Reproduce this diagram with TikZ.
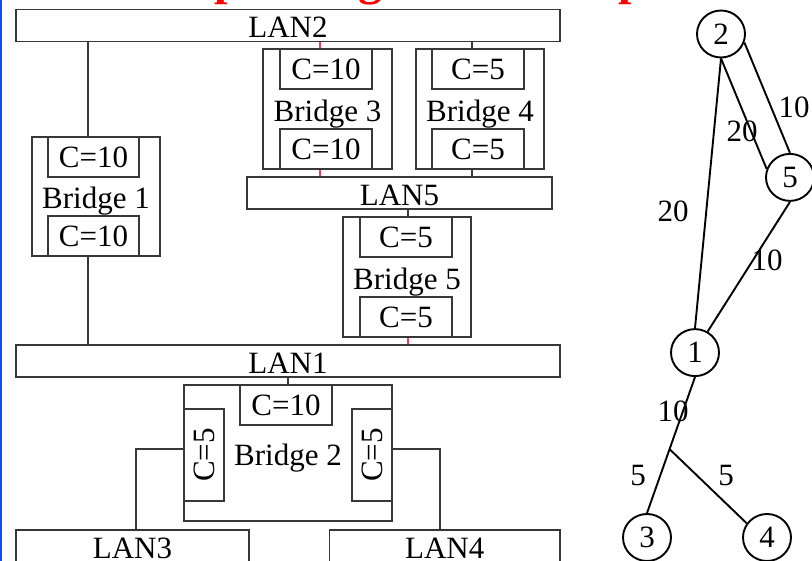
\documentclass[tikz,border=0pt]{standalone}
\usepackage{fontspec}
\setmainfont{Liberation Serif}
\usetikzlibrary{shapes.geometric,calc}
\definecolor{boxgray}{RGB}{55,55,55}
\definecolor{linkred}{RGB}{235,60,90}
\definecolor{edgeblue}{RGB}{10,80,250}
\begin{document}
\begin{tikzpicture}[x=1pt,y=-1pt,
  font=\fontsize{31}{31}\selectfont,
  box/.style={draw=boxgray, line width=1.3pt, inner sep=0pt, rectangle, text depth=0pt},
  lowtext/.style={text height=25pt, text depth=0pt},
  wire/.style={draw=boxgray, line width=1.3pt},
  redwire/.style={draw=linkred, line width=1.3pt},
  gnode/.style={draw=black, line width=1.9pt, ellipse, minimum width=48pt, minimum height=47pt, inner sep=0pt},
  gedge/.style={draw=black, line width=1.9pt},
  glabel/.style={inner sep=0pt}]
\useasboundingbox (0,0) rectangle (812,561);
\clip (0,0) rectangle (812,561);
\fill[white] (0,0) rectangle (812,561);
\fill[edgeblue] (0,0) rectangle (2.4,561);
% title (only descenders visible)
\node[anchor=base west, text=red, inner sep=0pt, font=\fontsize{48}{48}\selectfont\bfseries] (title) at (188,-5) {Spanning Tree Example};
% LANs
\node[box, lowtext, minimum width=544pt, minimum height=32pt] (lan2) at (288,25.5) {LAN2};
\node[box, lowtext, minimum width=305pt, minimum height=32pt] (lan5) at (399.5,193) {LAN5};
\node[box, lowtext, minimum width=544pt, minimum height=32pt] (lan1) at (288,361) {LAN1};
\node[box, lowtext, minimum width=233pt, minimum height=32pt] (lan3) at (132.5,546) {LAN3};
\node[box, lowtext, minimum width=230.5pt, minimum height=32pt] (lan4) at (444.75,546) {LAN4};
% Bridge 1
\node[box, lowtext, minimum width=128pt, minimum height=119pt] (b1) at (96,196.5) {Bridge 1};
\node[box, minimum width=91pt, minimum height=40pt] (b1a) at (93.5,157) {C=10};
\node[box, minimum width=91pt, minimum height=40pt] (b1b) at (93.5,236) {C=10};
% Bridge 3
\node[box, lowtext, minimum width=129pt, minimum height=120pt] (b3) at (327.5,109) {Bridge 3};
\node[box, minimum width=92pt, minimum height=40pt] (b3a) at (326,69) {C=10};
\node[box, minimum width=92pt, minimum height=40pt] (b3b) at (326,149) {C=10};
% Bridge 4
\node[box, lowtext, minimum width=128pt, minimum height=120pt] (b4) at (480,109) {Bridge 4};
\node[box, minimum width=92pt, minimum height=40pt] (b4a) at (478,69) {C=5};
\node[box, minimum width=92pt, minimum height=40pt] (b4b) at (478,149) {C=5};
% Bridge 5
\node[box, lowtext, minimum width=128pt, minimum height=120pt] (b5) at (407,277) {Bridge 5};
\node[box, minimum width=92pt, minimum height=40pt] (b5a) at (406,237) {C=5};
\node[box, minimum width=92pt, minimum height=40pt] (b5b) at (406,317) {C=5};
% Bridge 2
\node[box, lowtext, minimum width=208pt, minimum height=136pt] (b2) at (288,453) {Bridge 2};
\node[box, minimum width=92pt, minimum height=40pt] (b2t) at (286,405) {C=10};
\node[box, minimum width=40pt, minimum height=92pt] (b2l) at (204,455) {};
\node[rotate=90, inner sep=0pt, text depth=0pt] (b2lt) at (b2l.center) {C=5};
\node[box, minimum width=40pt, minimum height=92pt] (b2r) at (372,455) {};
\node[rotate=90, inner sep=0pt, text depth=0pt] (b2rt) at (b2r.center) {C=5};
% connectors
\draw[wire] ([xshift=-5.5pt]b1a.north) -- ([xshift=-5.5pt]b1a.north |- lan2.south);
\draw[wire] ([xshift=-5.5pt]b1b.south) -- ([xshift=-5.5pt]b1b.south |- lan1.north);
\draw[redwire] ([xshift=-6pt]b3a.north) -- ([xshift=-6pt]b3a.north |- lan2.south);
\draw[redwire] ([xshift=-6pt]b3b.south) -- ([xshift=-6pt]b3b.south |- lan5.north);
\draw[wire] ([xshift=-6pt]b4a.north) -- ([xshift=-6pt]b4a.north |- lan2.south);
\draw[wire] ([xshift=-6pt]b4b.south) -- ([xshift=-6pt]b4b.south |- lan5.north);
\draw[wire] ([xshift=2pt]b5a.north) -- ([xshift=2pt]b5a.north |- lan5.south);
\draw[redwire] ([xshift=2pt]b5b.south) -- ([xshift=2pt]b5b.south |- lan1.north);
\draw[wire] ([xshift=2pt]b2t.north) -- ([xshift=2pt]b2t.north |- lan1.south);
\draw[wire] ([yshift=6pt]b2l.west) -| ([xshift=3.5pt]lan3.north);
\draw[wire] ([yshift=6pt]b2r.east) -| ([xshift=-4.75pt]lan4.north);
% graph
\node[gnode] (n2) at (721,34) {2};
\node[gnode] (n5) at (790,177.4) {5};
\node[gnode] (n1) at (695,352.6) {1};
\node[gnode] (n3) at (647,537.5) {3};
\node[gnode] (n4) at (767,537.5) {4};
\draw[gedge] (n2.south) -- (n1.north);
\draw[gedge] (n2.south) -- (n5.160);
\draw[gedge] (n2.-20) -- (n5.north);
\draw[gedge] (n5.south) -- (n1.59);
\draw[gedge] (n1.south) -- (n3.north);
\coordinate (j) at ($(n1.south)!0.53!(n3.north)$);
\draw[gedge] (j) -- (n4.145);
\node[glabel] (l21) at (673,211.5) {20};
\node[glabel] (l25a) at (742,131) {20};
\node[glabel] (l25b) at (794,107) {10};
\node[glabel] (l51) at (767,260) {10};
\node[glabel] (l1j) at (673,411.5) {10};
\node[glabel] (lj3) at (638,476) {5};
\node[glabel] (lj4) at (726,476) {5};
\end{tikzpicture}
\end{document}
